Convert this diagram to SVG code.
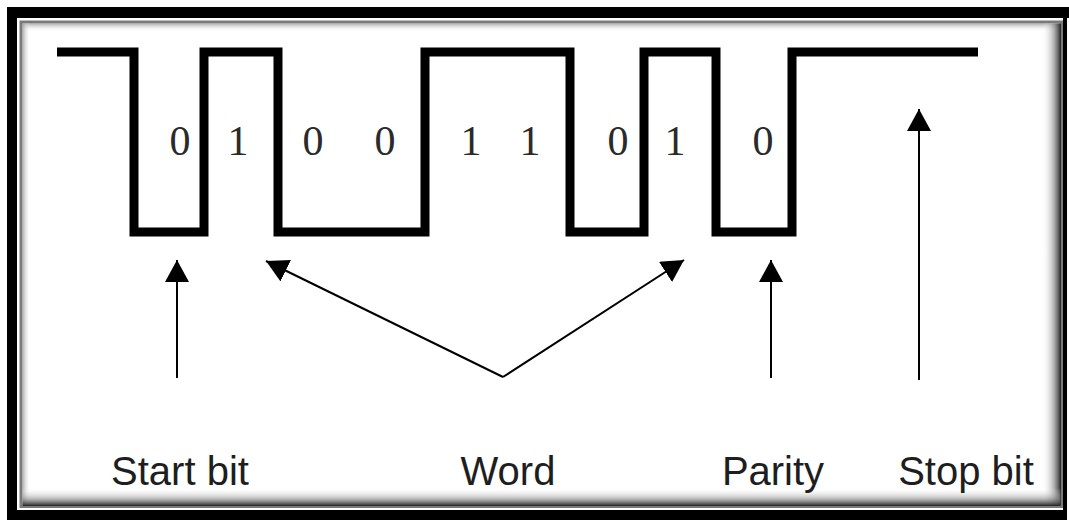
<svg xmlns="http://www.w3.org/2000/svg" width="1069" height="520" viewBox="0 0 1069 520">
  <style>
    .wave { fill: none; stroke: #000; stroke-width: 9; stroke-linejoin: miter; stroke-linecap: butt; }
    .bit { font-family: "Liberation Serif", "Times New Roman", serif; font-size: 42px; fill: #2a2a2a; text-anchor: middle; }
    .label { font-family: "Liberation Sans", Arial, sans-serif; font-size: 40px; fill: #1e1e1e; text-anchor: middle; }
    .arrow { fill: none; stroke: #000; stroke-width: 2; marker-end: url(#head); }
  </style>
  <defs>
    <marker id="head" viewBox="0 0 22 24" refX="22" refY="12" markerWidth="22" markerHeight="24" markerUnits="userSpaceOnUse" orient="auto">
      <path d="M0,0 L22,12 L0,24 Z" fill="#000"/>
    </marker>
    <linearGradient id="gTop" x1="0" y1="0" x2="0" y2="1">
      <stop offset="0" stop-color="#9a9a9a" stop-opacity="0.8"/>
      <stop offset="1" stop-color="#ffffff" stop-opacity="0"/>
    </linearGradient>
    <linearGradient id="gLeft" x1="0" y1="0" x2="1" y2="0">
      <stop offset="0" stop-color="#9a9a9a" stop-opacity="0.8"/>
      <stop offset="1" stop-color="#ffffff" stop-opacity="0"/>
    </linearGradient>
    <linearGradient id="gRight" x1="0" y1="0" x2="1" y2="0">
      <stop offset="0" stop-color="#ffffff" stop-opacity="0"/>
      <stop offset="0.6" stop-color="#8a8a8a" stop-opacity="0.6"/>
      <stop offset="1" stop-color="#222" stop-opacity="1"/>
    </linearGradient>
    <linearGradient id="gBottom" x1="0" y1="0" x2="0" y2="1">
      <stop offset="0" stop-color="#ffffff" stop-opacity="0"/>
      <stop offset="0.6" stop-color="#8a8a8a" stop-opacity="0.6"/>
      <stop offset="1" stop-color="#222" stop-opacity="1"/>
    </linearGradient>
  </defs>

  <rect x="0" y="0" width="1069" height="520" fill="#fff"/>
  <g id="frame">
    <rect x="7" y="7" width="1062" height="513" fill="#000"/>
    <rect x="1067" y="18" width="2" height="502" fill="#fff"/>
    <rect x="17" y="18" width="1046" height="492" fill="#fff"/>
    <rect x="19.5" y="20.5" width="1043.5" height="487.5" fill="#7a7a7a"/>
    <rect x="22.5" y="23.5" width="1038" height="482" fill="#fff"/>
    <rect x="22.5" y="23.5" width="1038" height="8" fill="url(#gTop)"/>
    <rect x="22.5" y="23.5" width="8" height="482" fill="url(#gLeft)"/>
    <rect x="1042" y="23.5" width="19" height="482" fill="url(#gRight)"/>
    <rect x="22.5" y="488" width="1038" height="18" fill="url(#gBottom)"/>
  </g>

  <g id="waveform">
    <path class="wave" d="M57,52 H134 V232 H204 V52 H278 V232 H425 V52 H570 V232 H644 V52 H716 V232 H792 V52 H978"/>
  </g>

  <g id="bits">
    <text class="bit" x="180" y="155">0</text>
    <text class="bit" x="238" y="155">1</text>
    <text class="bit" x="313" y="155">0</text>
    <text class="bit" x="385" y="155">0</text>
    <text class="bit" x="471" y="155">1</text>
    <text class="bit" x="530" y="155">1</text>
    <text class="bit" x="618" y="155">0</text>
    <text class="bit" x="675" y="155">1</text>
    <text class="bit" x="763" y="155">0</text>
  </g>

  <g id="connectors">
    <line class="arrow" x1="177" y1="378" x2="177" y2="260"/>
    <line class="arrow" x1="503" y1="377" x2="266" y2="261"/>
    <line class="arrow" x1="503" y1="377" x2="684" y2="260"/>
    <line class="arrow" x1="771" y1="378" x2="771" y2="260"/>
    <line class="arrow" x1="919" y1="380" x2="919" y2="109"/>
  </g>

  <g id="start-bit"><text class="label" x="180" y="485">Start bit</text></g>
  <g id="word"><text class="label" x="508" y="485">Word</text></g>
  <g id="parity"><text class="label" x="773" y="485">Parity</text></g>
  <g id="stop-bit"><text class="label" x="966" y="485">Stop bit</text></g>
</svg>
